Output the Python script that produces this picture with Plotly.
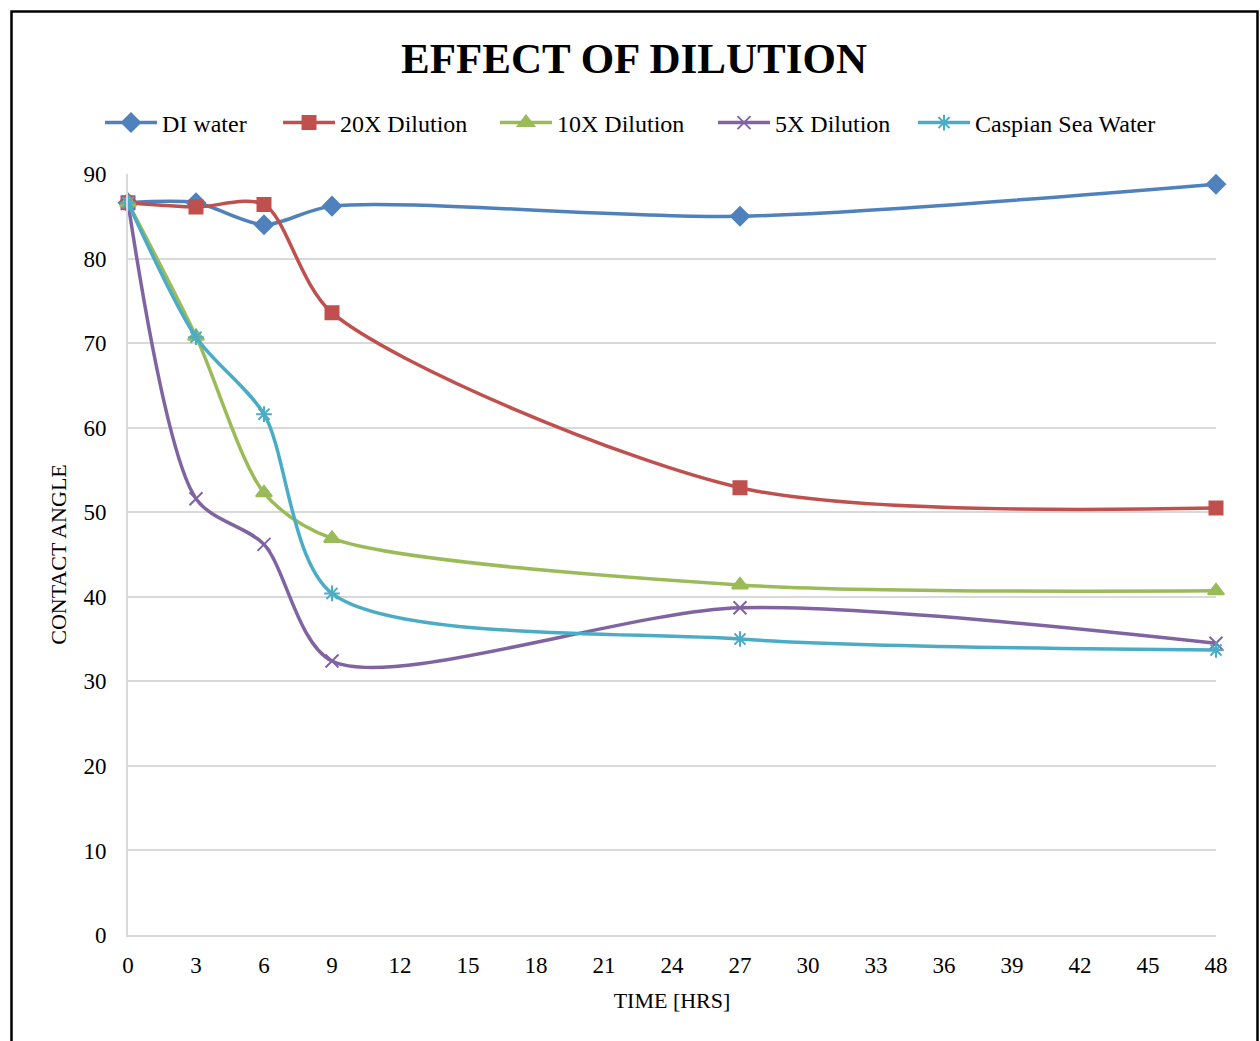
import plotly.graph_objects as go

time_hrs = [0, 3, 6, 9, 27, 48]
di_water = [86.6, 86.6, 84.0, 86.2, 85.0, 88.8]
dil_20x = [86.6, 86.1, 86.4, 73.6, 52.9, 50.5]
dil_10x = [86.6, 70.8, 52.3, 46.9, 41.4, 40.7]
dil_5x = [86.6, 51.6, 46.2, 32.4, 38.7, 34.5]
caspian = [86.6, 70.7, 61.6, 40.4, 35.0, 33.7]

series = [
    ("DI water", di_water, "#4F81BD", "diamond", 14),
    ("20X Dilution", dil_20x, "#C0504D", "square", 13),
    ("10X Dilution", dil_10x, "#9BBB59", "triangle-up", 14),
    ("5X Dilution", dil_5x, "#8064A2", "x-thin-open", 13),
    ("Caspian Sea Water", caspian, "#4BACC6", "asterisk-open", 13),
]

FONT = "Liberation Serif"
W, H = 1260, 1041
L, R, T, B = 128, 1216, 174, 935
pw, ph = R - L, B - T
def px(x): return (x - L) / pw
def py(y): return (B - y) / ph

legend_ids = ["legend", "legend2", "legend3", "legend4", "legend5"]
legend_starts = [105, 283, 500, 718, 918]

fig = go.Figure()
for (name, vals, color, sym, size), lid in zip(series, legend_ids):
    fig.add_trace(go.Scatter(
        x=time_hrs, y=vals, name=name, mode="lines+markers",
        line=dict(color=color, width=3.5, shape="spline", smoothing=0.8),
        marker=dict(symbol=sym, size=size, color=color,
                    line=dict(color=color, width=2)),
        cliponaxis=False, legend=lid,
    ))

fig.add_shape(type="rect", xref="paper", yref="paper",
              x0=px(11.5), x1=px(1257.5), y0=py(1060), y1=py(11.5),
              line=dict(color="black", width=2.5), fillcolor="rgba(0,0,0,0)",
              layer="below")

legend_layout = {}
for lid, start in zip(legend_ids, legend_starts):
    legend_layout[lid] = dict(
        orientation="h", x=px(start - 5), xanchor="left",
        y=py(123), yanchor="middle", bgcolor="rgba(0,0,0,0)",
        font=dict(family=FONT, size=24, color="black"),
        itemwidth=52)

fig.update_layout(
    width=W, height=H,
    margin=dict(l=L, r=W - R, t=T, b=H - B, pad=0),
    paper_bgcolor="white", plot_bgcolor="white",
    font=dict(family=FONT, size=20, color="black"),
    title=dict(text="<b>EFFECT OF DILUTION</b>",
               x=px(634), xanchor="center", xref="paper",
               y=1 - 58 / H, yanchor="middle",
               font=dict(family=FONT, size=43, color="black")),
    showlegend=True,
    xaxis=dict(range=[0, 48], tickmode="array", tickvals=list(range(0, 49, 3)),
               showgrid=False, zeroline=False, showline=True,
               linecolor="#D9D9D9", linewidth=2, ticks="", ticklabelstandoff=8,
               tickfont=dict(family=FONT, size=23),
               title=dict(text="TIME [HRS]", standoff=16,
                          font=dict(family=FONT, size=22))),
    yaxis=dict(range=[0, 90], tickmode="array", tickvals=list(range(0, 91, 10)),
               showgrid=True, gridcolor="#D9D9D9", gridwidth=2,
               zeroline=False, showline=True, linecolor="#D9D9D9", linewidth=2,
               ticks="", ticklabelstandoff=15,
               tickfont=dict(family=FONT, size=23),
               title=dict(text="CONTACT ANGLE", standoff=11,
                          font=dict(family=FONT, size=22))),
    **legend_layout,
)

fig.write_html("out.html")
